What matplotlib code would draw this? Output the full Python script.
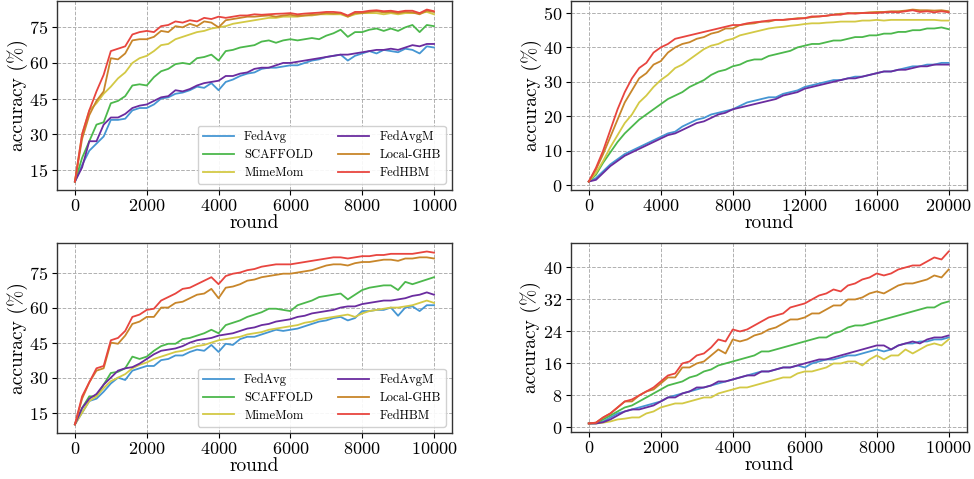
import matplotlib
matplotlib.use('Agg')
import matplotlib.pyplot as plt
import numpy as np

plt.rcParams['font.family'] = 'serif'
plt.rcParams['font.serif'] = ['cmr10', 'DejaVu Serif']
plt.rcParams['mathtext.fontset'] = 'cm'
plt.rcParams['axes.formatter.use_mathtext'] = True

methods = ['FedAvg', 'SCAFFOLD', 'MimeMom', 'FedAvgM', 'Local-GHB', 'FedHBM']
colors = ['#4596d3', '#4cb84c', '#d3c945', '#6a2c9f', '#c8862a', '#e8453f']

rounds_10k = np.arange(0, 10001, 200)
rounds_20k = np.arange(0, 20001, 400)

# top left
tl_fedavg = [10, 17, 23, 26, 29, 36, 36, 36.5, 40, 41, 41, 42.5, 45, 45.5, 47, 47.5, 48.5, 50, 49.5, 51.5, 48.5,
             52, 53, 54.5, 55.5, 56, 57.5, 58, 58, 58.5, 59, 59, 60, 61, 61.5, 62.5, 63, 63.5, 61, 63, 64,
             65, 64, 65.5, 65, 64.5, 66, 65.5, 64, 67, 66.5]
tl_scaffold = [10, 20, 27, 34, 35, 43, 44, 46, 50.5, 51, 50.5, 54, 56.5, 57.5, 59.5, 60, 59.5, 62, 62.5, 63.5, 61,
               65, 65.5, 66.5, 67, 67.5, 69, 69.5, 68.5, 69.5, 70, 69.5, 70, 70.5, 70, 71.5, 72.5, 74, 71, 73, 73,
               74, 74.5, 73.5, 74.5, 73.5, 75, 76, 73, 76, 75.5]
tl_mimemom = [10, 30, 40, 43, 47, 50, 53.5, 56, 60, 62, 63, 65, 67.5, 68, 70, 71, 72, 73, 73.5, 74.5, 75,
              75.5, 76.5, 77, 77.5, 78, 78.5, 79, 79, 79.5, 79.5, 79.5, 80, 80, 80.5, 80.5, 80.5, 80.5, 79.5, 80.5, 81,
              81, 81, 80.5, 81, 80.5, 81, 81, 81, 81.5, 80.5]
tl_fedavgm = [10, 16, 27, 27, 34, 37, 37, 38.5, 41, 42, 42.5, 44, 45.5, 46, 48.5, 48, 49, 50.5, 51.5, 52, 52.5,
              54.5, 54.5, 55.5, 56, 57.5, 58, 58, 59, 60, 60, 60.5, 61, 61.5, 62, 62.5, 63, 63.5, 63.5, 64, 64.5,
              65, 65.5, 65.5, 66, 65.5, 66.5, 67.5, 67, 68, 68]
tl_localghb = [10, 28, 38, 44, 48, 62, 61.5, 64, 69.5, 70, 70, 71, 73.5, 73, 75.5, 75, 76.5, 75.5, 77.5, 77, 75,
               78, 78.5, 79, 79.5, 79.5, 79.8, 80, 79.5, 80, 80.3, 79.8, 80, 80.3, 80.5, 81, 80.8, 81, 79.5, 81, 81,
               81.5, 81.8, 81.3, 81.5, 81, 81.5, 81.3, 80.5, 82, 81.5]
tl_fedhbm = [10, 30, 40, 48, 55, 65, 66, 67, 72, 73, 73.5, 73, 75.5, 76, 77.5, 77, 78, 77.5, 79, 78.5, 79.5,
             79, 79.5, 80, 80, 80.5, 80.3, 80.5, 80.7, 80.8, 81, 80.5, 80.8, 81, 81.2, 81.5, 81.5, 81.2, 80, 81.5, 81.5,
             82, 82.2, 81.8, 82, 81.5, 82, 82, 81, 82.5, 81.8]

# top right
tr_fedavg = [1, 2, 4, 6, 7.5, 9, 10, 11, 12, 13, 14, 15, 15.5, 17, 18, 19, 19.5, 20.5, 21, 21.5, 22,
             23, 24, 24.5, 25, 25.5, 25.5, 26.5, 27, 27.5, 28.5, 29, 29.5, 30, 30.5, 30.5, 31, 31.5, 31.5, 32, 32.5,
             33, 33, 33.5, 34, 34.5, 34.5, 35, 35, 35.5, 35.5]
tr_scaffold = [1, 3, 6.5, 9.5, 12.5, 15, 17, 19, 20.5, 22, 23.5, 25, 26, 27, 28.5, 29.5, 30.5, 32, 33, 33.5, 34.5,
               35, 36, 36.5, 36.5, 37.5, 38, 38.5, 39, 40, 40.5, 41, 41, 41.5, 42, 42, 42.5, 43, 43, 43.5, 43.5,
               44, 44, 44.5, 44.5, 45, 45, 45.5, 45.5, 45.8, 45.3]
tr_mimemom = [1, 3.5, 7, 11, 14.5, 18, 20.5, 24, 26, 28.5, 30.5, 32, 34, 35, 36.5, 38, 39.5, 40.5, 41, 42, 42.5,
              43.5, 44, 44.5, 45, 45.5, 45.8, 46, 46.3, 46.5, 46.8, 47, 47, 47.2, 47.3, 47.5, 47.5, 47.5, 47.8, 47.8, 48,
              47.8, 48, 48, 48, 48, 48, 48, 48, 47.8, 47.8]
tr_fedavgm = [1, 1.5, 3.5, 5.5, 7, 8.5, 9.5, 10.5, 11.5, 12.5, 13.5, 14.5, 15, 16, 17, 18, 18.5, 19.5, 20.5, 21, 22,
              22.5, 23, 23.5, 24, 24.5, 25, 26, 26.5, 27, 28, 28.5, 29, 29.5, 30, 30.5, 31, 31, 31.5, 32, 32.5,
              33, 33, 33.5, 33.5, 34, 34.5, 34.5, 35, 35, 35]
tr_localghb = [1, 4.5, 9, 14, 19, 24, 27.5, 31, 32.5, 35, 36, 38.5, 40, 41, 41.5, 42.5, 43, 44, 44.5, 45.5, 45.5,
               46.5, 46.8, 47, 47.5, 47.5, 48, 48, 48.2, 48.5, 48.5, 48.8, 49, 49.2, 49.5, 49.8, 49.8, 50, 50, 50.2, 50.3,
               50.3, 50.5, 50.5, 50.7, 51, 50.8, 50.8, 50.7, 50.8, 50.5]
tr_fedhbm = [1, 5, 10, 16, 22, 27, 31, 34, 35.5, 38.5, 40, 41, 42.5, 43, 43.5, 44, 44.5, 45, 45.5, 46, 46.5,
             46.5, 47, 47.3, 47.5, 47.8, 48, 48, 48.2, 48.3, 48.5, 49, 49, 49.2, 49.5, 49.5, 50, 49.8, 50, 50, 50,
             50.2, 50.3, 50.2, 50.5, 50.8, 50.3, 50.5, 50.2, 50.5, 50.2]

# bottom left
bl_fedavg = [10, 15, 20, 21, 24, 27.5, 30, 29, 33, 34, 35, 35, 37.5, 38, 39.5, 39.5, 41, 42, 41.5, 44, 41,
             44.5, 44, 46.5, 47.5, 47.5, 48.5, 49.5, 50.5, 50, 50.5, 51, 52, 53, 54, 54.5, 55.5, 56, 54.5, 55.5, 58.5,
             58.5, 59, 59, 60, 56.5, 60, 60.5, 58.5, 61, 61]
bl_scaffold = [10, 17, 22, 22, 27, 32, 32.5, 34, 39, 38, 39, 41.5, 43.5, 44.5, 44.5, 46.5, 47, 48, 49, 50.5, 49,
               52.5, 53.5, 54.5, 56, 57, 58, 59.5, 59.5, 59, 58.5, 61, 62, 63, 64.5, 65, 65.5, 66, 63.5, 65.5, 67.5,
               68.5, 69, 69.5, 69.5, 67.5, 71, 70, 71, 72, 73]
bl_mimemom = [10, 15, 20, 22, 25.5, 28.5, 30, 31.5, 34, 35.5, 36.5, 38, 39, 40, 41, 41.5, 42.5, 43.5, 44, 45, 46,
              46.5, 47, 47.5, 48.5, 49, 49.5, 50.5, 51, 51.5, 52, 52.5, 53.5, 54, 55, 55.5, 56, 56.5, 57, 56, 57.5,
              58.5, 59, 59.5, 60, 60, 60.5, 61, 62, 63, 62]
bl_fedavgm = [10, 17, 21, 23, 27, 30, 33, 34, 34.5, 36, 38, 40, 41.5, 42, 42.5, 43.5, 45, 46, 46.5, 47, 48,
              48.5, 49, 50, 51, 51.5, 52.5, 53, 54, 54.5, 55, 56, 56.5, 57.5, 58, 58.5, 59, 60, 60.5, 60.5, 61.5,
              62, 62.5, 63, 63, 63.5, 64, 65, 65.5, 66.5, 65.5]
bl_localghb = [10, 21, 28, 33, 34, 45, 44.5, 48, 53, 54, 56, 56, 60, 60, 62, 62.5, 64, 65.5, 66, 68, 64,
               68.5, 69, 70, 71.5, 72, 73, 73.5, 74, 74.5, 74.5, 75, 75.5, 76, 77, 78, 78.5, 78.5, 78, 79, 79.5,
               79.5, 80, 80.5, 80.5, 80, 81, 81, 81.5, 81.5, 81]
bl_fedhbm = [10, 22, 28, 34, 35, 46, 47, 50, 56, 57, 59, 59.5, 63, 64.5, 66, 68, 68.5, 70, 71.5, 73, 70,
             73.5, 74.5, 75, 76, 76.5, 77.5, 78, 78.5, 78.5, 78.5, 79, 79.5, 80, 80.5, 81, 81.5, 81.5, 81, 81.5, 82,
             82, 82.5, 82.5, 83, 83, 83, 83, 83.5, 84, 83.5]

# bottom right
br_fedavg = [1, 1, 1.5, 2.5, 3.5, 4, 4.5, 5, 5.5, 6, 6.5, 7.5, 8, 8.5, 9, 9.5, 10, 10.5, 11, 11.5, 12,
             12.5, 13, 13.5, 14, 14, 14.5, 15, 15, 15.5, 15, 16, 16.5, 17, 17, 17.5, 18, 18, 18.5, 19, 19.5,
             19, 19.5, 20.5, 21, 21, 21.5, 21.5, 22, 22, 22.5]
br_scaffold = [1, 1.1, 2, 3, 4, 5, 5.5, 6.5, 7.5, 8.5, 9.5, 10.5, 11, 11.5, 12.5, 13, 14, 14.5, 15.5, 16, 16.5,
               17, 17.5, 18, 19, 19, 19.5, 20, 20.5, 21, 21.5, 22, 22.5, 22.5, 23.5, 24, 25, 25.5, 25.5, 26, 26.5,
               27, 27.5, 28, 28.5, 29, 29.5, 30, 30, 31, 31.5]
br_mimemom = [1, 1, 1.2, 1.5, 2, 2.2, 2.5, 2.5, 3.5, 4, 5, 5.5, 6, 6, 6.5, 7, 7.5, 7.5, 8.5, 9, 9.5,
              10, 10, 10.5, 11, 11.5, 12, 12.5, 12.5, 13.5, 14, 14, 14.5, 15, 16, 16, 16.5, 16.5, 15.5, 17, 18,
              17, 18, 18, 19.5, 18.5, 19.5, 20.5, 21, 20.5, 22]
br_fedavgm = [1, 1, 1.3, 2, 3, 4, 4.5, 4.5, 5, 5.5, 6.5, 7.5, 7.5, 8.5, 9, 10, 10, 10.5, 11.5, 11.5, 12,
              12.5, 13, 13, 14, 14, 14.5, 15, 15, 15.5, 16, 16.5, 17, 17, 17.5, 18, 18.5, 19, 19.5, 20, 20.5,
              20.5, 19.5, 20.5, 21, 21.5, 21, 22, 22.5, 22.5, 23]
br_localghb = [1, 1.2, 2.5, 3.5, 5, 6.5, 6.5, 8, 9, 9.5, 11, 12.5, 12.5, 15, 15, 16, 16.5, 18, 19.5, 18.5, 22,
               21.5, 22, 23, 23.5, 24.5, 25, 26, 27, 27, 27.5, 28.5, 28.5, 29.5, 30.5, 30.5, 32, 32, 32.5, 33.5, 34,
               33.5, 34.5, 35.5, 36, 36, 36.5, 37, 38, 37.5, 39.5]
br_fedhbm = [1, 1.2, 2.5, 3.5, 5, 6.5, 7, 8, 9, 10, 11.5, 13, 13.5, 16, 16.5, 18, 18.5, 20, 22, 21.5, 24.5,
             24, 24.5, 25.5, 26.5, 27.5, 28, 28.5, 30, 30.5, 31, 32, 33, 33.5, 34.5, 34, 35.5, 36, 37, 37.5, 38.5,
             38, 38.5, 39.5, 40, 40.5, 40.5, 41.5, 42.5, 42, 44]

fig = plt.figure(figsize=(9.74, 4.79), dpi=100)

panels = [
    ([0.0585, 0.603, 0.4055, 0.395], rounds_10k,
     [tl_fedavg, tl_scaffold, tl_mimemom, tl_fedavgm, tl_localghb, tl_fedhbm],
     [15, 30, 45, 60, 75], [0, 2000, 4000, 6000, 8000, 10000], True),
    ([0.586, 0.603, 0.4065, 0.395], rounds_20k,
     [tr_fedavg, tr_scaffold, tr_mimemom, tr_fedavgm, tr_localghb, tr_fedhbm],
     [0, 10, 20, 30, 40, 50], [0, 4000, 8000, 12000, 16000, 20000], False),
    ([0.0585, 0.096, 0.4055, 0.397], rounds_10k,
     [bl_fedavg, bl_scaffold, bl_mimemom, bl_fedavgm, bl_localghb, bl_fedhbm],
     [15, 30, 45, 60, 75], [0, 2000, 4000, 6000, 8000, 10000], True),
    ([0.586, 0.098, 0.4065, 0.395], rounds_10k,
     [br_fedavg, br_scaffold, br_mimemom, br_fedavgm, br_localghb, br_fedhbm],
     [0, 8, 16, 24, 32, 40], [0, 2000, 4000, 6000, 8000, 10000], False),
]

for rect, x, series, yt, xt, show_legend in panels:
    ax = fig.add_axes(rect)
    for name, col, y in zip(methods, colors, series):
        ax.plot(x, y, color=col, lw=1.3, label=name)
    ax.set_yticks(yt)
    ax.set_xticks(xt)
    ax.tick_params(labelsize=13, length=3.5, width=0.8, pad=2.5)
    ax.grid(True, ls='--', color='#b0b0b0', lw=0.7)
    ax.set_axisbelow(True)
    for s in ax.spines.values():
        s.set_color('#333333')
        s.set_linewidth(1.0)
    ax.set_xlabel('round', fontsize=14, labelpad=0)
    ax.set_ylabel('accuracy (%)', fontsize=14, labelpad=1)
    if show_legend:
        ax.legend(loc='lower right', ncol=2, fontsize=9, columnspacing=2.0, handlelength=2.5,
                  labelspacing=0.45, framealpha=0.9)

fig.savefig('out.png', dpi=100)
